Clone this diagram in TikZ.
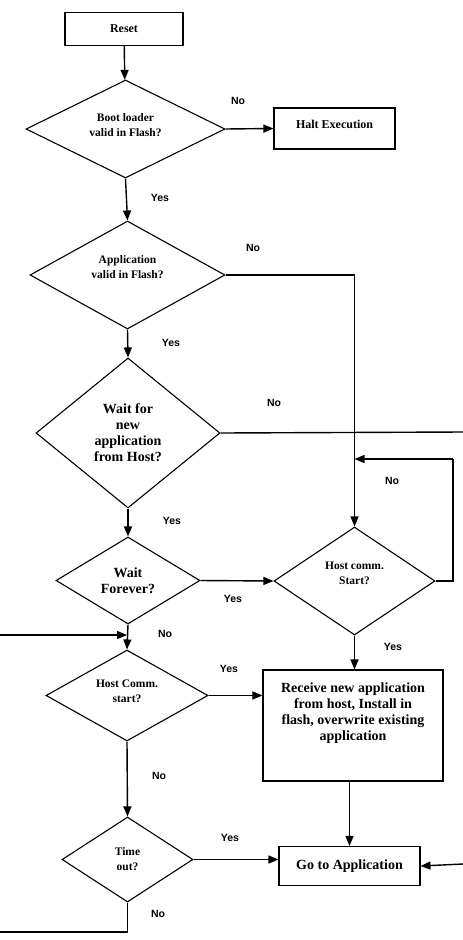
\documentclass[tikz,border=0pt]{standalone}
\usepackage{fontspec}
\setmainfont{Liberation Serif}
\newfontfamily\lblfont{Liberation Sans}
\usetikzlibrary{positioning,calc,arrows.meta,shapes.geometric}
\tikzset{
	box/.style={draw, line width=1.1pt, rectangle, inner sep=0pt, align=center, font=\bfseries\fontsize{12}{14}\selectfont},
	dec/.style={draw, line width=1.1pt, diamond, inner sep=0pt, align=center, font=\bfseries\fontsize{11.5}{15}\selectfont},
	big/.style={font=\bfseries\fontsize{14}{16}\selectfont},
	lbl/.style={inner sep=0pt, font=\lblfont\bfseries\fontsize{10.5}{11}\selectfont},
	flow/.style={line width=1.4pt, -{Triangle[length=10pt,width=8pt]}},
	wire/.style={line width=1.4pt},
}

\begin{document}
\begin{tikzpicture}[x=1pt, y=-1pt]
	\useasboundingbox (0,0) rectangle (463,940);
	% left column
	\node[box, minimum width=118pt, minimum height=33pt] (reset) at (124,29) {Reset};
	\node[dec, minimum width=199pt, minimum height=98pt, aspect=2, text depth=7pt] (boot) at (125.5,129) {Boot loader\\valid in Flash?};
	\node[dec, minimum width=195pt, minimum height=108pt, aspect=1.8, text depth=15pt] (appok) at (127.5,275) {Application\\valid in Flash?};
	\node[dec, big, minimum width=184pt, minimum height=150pt, aspect=1.23] (waitnew) at (128,433) {Wait for\\new\\application\\from Host?};
	\node[dec, big, minimum width=144pt, minimum height=87pt, aspect=1.65] (waitfor) at (128,580.5) {Wait\\Forever?};
	\node[dec, minimum width=162pt, minimum height=91pt, aspect=1.78, text depth=8pt] (hoststart) at (127,695.5) {Host Comm.\\start?};
	\node[dec, minimum width=131pt, minimum height=85pt, aspect=1.54] (timeout) at (127.5,859.5) {Time\\out?};

	% right column
	\node[box, minimum width=121pt, minimum height=41pt, text depth=8pt] (halt) at (334.5,128.5) {Halt Execution};
	\node[dec, minimum width=161pt, minimum height=108pt, aspect=1.5, text depth=15pt] (hostcomm) at (354.5,581) {Host comm.\\Start?};
	\node[box, big, minimum width=180pt, minimum height=111pt, text depth=28pt] (receive) at (353,725.5) {Receive new application\\from host, Install in\\flash, overwrite existing\\application};
	\node[box, big, minimum width=141pt, minimum height=39pt] (goapp) at (349.5,866) {Go to Application};

	% off page ends
	\coordinate (offnew) at (463,432);
	\coordinate (inleft) at (0,635);
	\coordinate (joinleft) at (127,635);
	\coordinate (inright) at (463,864);
	\coordinate (outleft) at (0,932);
	\coordinate (loopr) at (453,581);
	\coordinate (loopt) at (453,459);
	\coordinate (loopj) at (354.5,459);

	\draw[flow] (reset) -- (boot);
	\draw[flow] (boot.east) -- (halt.west);
	\draw[flow] (boot.south) -- (appok.north);
	\draw[flow] (appok.east) -| (hostcomm.north);
	\draw[flow] (appok.south) -- (waitnew.north);
	\draw[wire] (waitnew.east) -- (offnew);
	\draw[flow] (waitnew.south) -- (waitfor.north);
	\draw[flow] (waitfor.east) -- (hostcomm.west);
	\draw[wire] (hostcomm.east) -- (loopr) -- (loopt);
	\draw[flow] (loopt) -- (loopj);
	\draw[flow] (waitfor.south) -- (hoststart.north);
	\draw[flow] (inleft) -- (joinleft);
	\draw[flow] (hoststart.east) -- (hoststart.east -| receive.west);
	\draw[flow] (hostcomm.south) -- (receive.north -| hostcomm.south);
	\draw[flow] (hoststart.south) -- (timeout.north);
	\draw[flow] (goapp.north |- receive.south) -- (goapp.north);
	\draw[flow] (timeout.east) -- (timeout.east -| goapp.west);
	\draw[flow] (inright) -- (goapp.east);
	\draw[wire] (timeout.south) |- (outleft);

	% branch labels
	\node[lbl] (no1) at (238,101) {No};
	\node[lbl] (yes1) at (160,198) {Yes};
	\node[lbl] (no2) at (253,248) {No};
	\node[lbl] (yes2) at (171,343) {Yes};
	\node[lbl] (no3) at (274,403) {No};
	\node[lbl] (no4) at (392,481) {No};
	\node[lbl] (yes3) at (172,521) {Yes};
	\node[lbl] (yes4) at (233,599) {Yes};
	\node[lbl] (no5) at (165,634) {No};
	\node[lbl] (yes5) at (393,647) {Yes};
	\node[lbl] (yes6) at (229,669) {Yes};
	\node[lbl] (no6) at (159,776) {No};
	\node[lbl] (yes7) at (230,838) {Yes};
	\node[lbl] (no7) at (158,914) {No};
\end{tikzpicture}
\end{document}
